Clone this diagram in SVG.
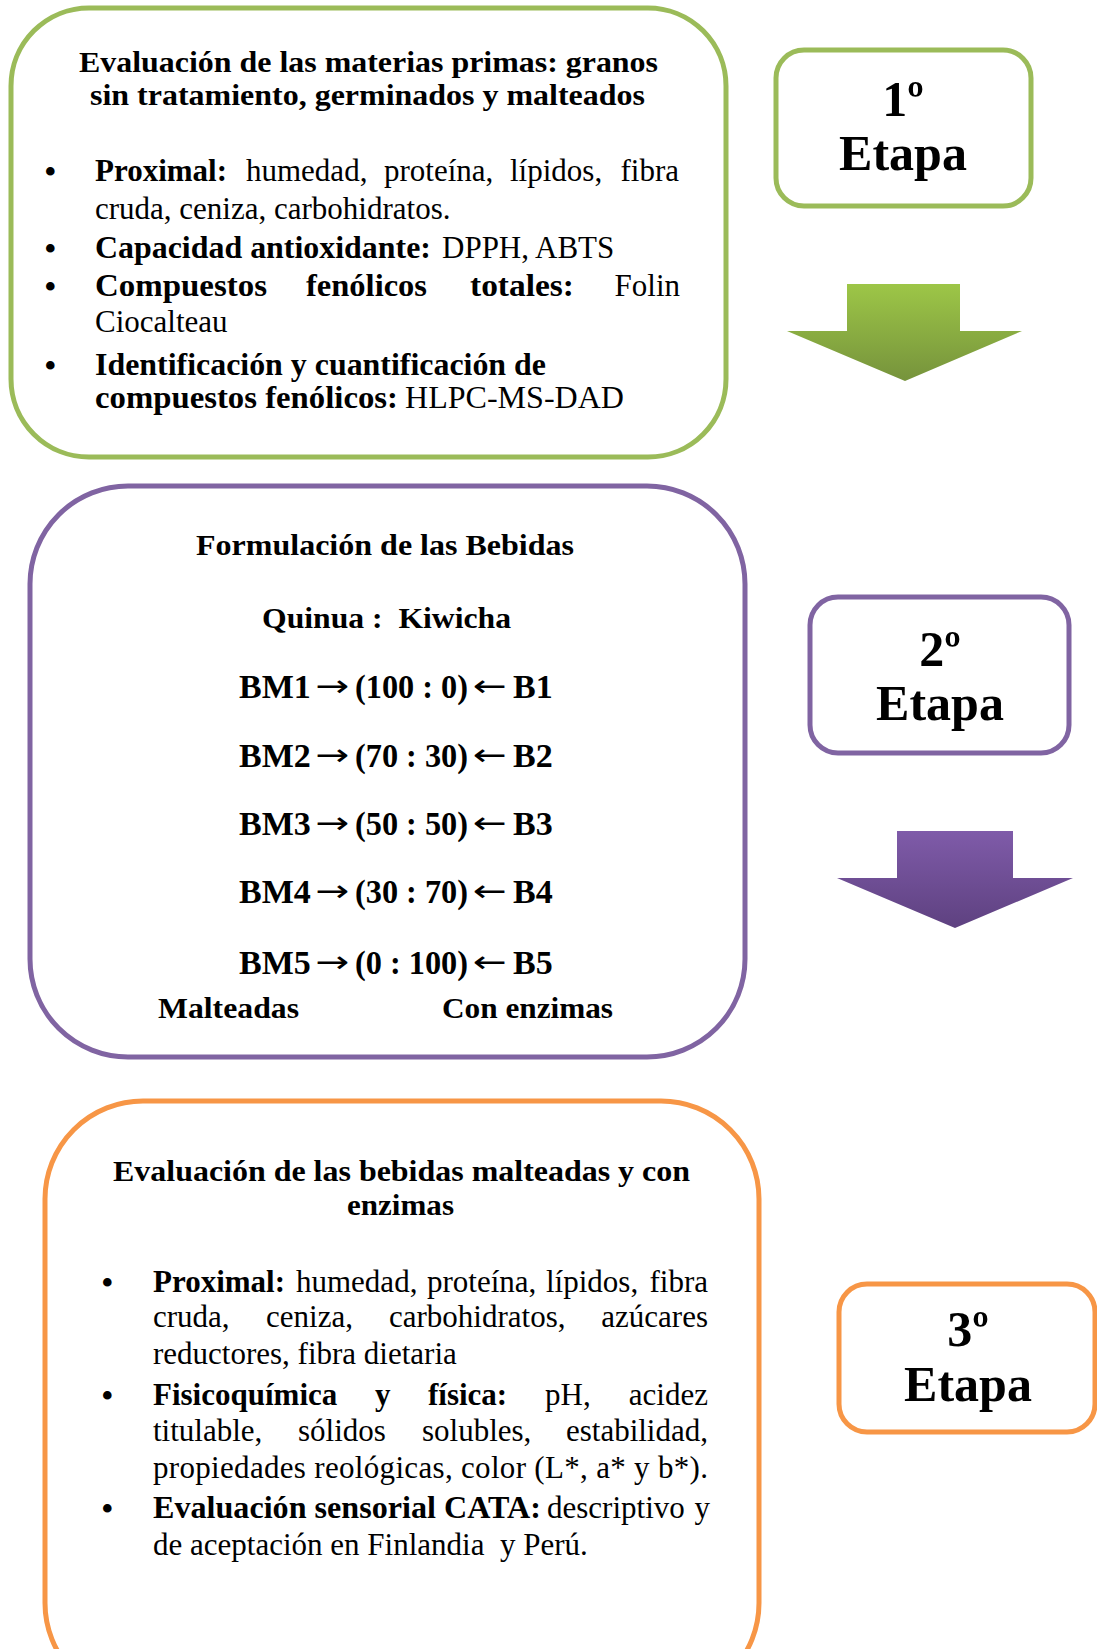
<svg xmlns="http://www.w3.org/2000/svg" width="1097" height="1649" viewBox="0 0 1097 1649" font-family="'Liberation Serif', 'Times New Roman', Tinos, serif">
<style>
text{font-family:'Liberation Serif','Times New Roman',Tinos,serif;fill:#000}
.b{font-weight:bold}
.t{font-size:30px;font-weight:bold}
.p{font-size:31px}
.e{text-anchor:end}
.u{font-size:36px}
.f{font-size:34px;font-weight:bold}
.a{font-family:'DejaVu Sans',sans-serif;font-size:30px}
.s{font-size:50px;font-weight:bold;text-anchor:middle}
.g{fill:#fff;stroke:#9BBB59;stroke-width:5}
.v{fill:#fff;stroke:#8064A2;stroke-width:5}
.o{fill:#fff;stroke:#F79646;stroke-width:5}
</style>
<defs>
<linearGradient id="gg" x1="0" y1="0" x2="0" y2="1">
<stop offset="0" stop-color="#9DC647"/><stop offset="1" stop-color="#76933C"/>
</linearGradient>
<linearGradient id="pg" x1="0" y1="0" x2="0" y2="1">
<stop offset="0" stop-color="#7F5BA9"/><stop offset="1" stop-color="#5E4180"/>
</linearGradient>
</defs>

<g id="connectors">
<polygon points="847,284 960,284 960,331 1022,331 905,381 787,331 847,331" fill="url(#gg)"/>
<polygon points="897,831 1013,831 1013,878 1073,878 955,928 837,878 897,878" fill="url(#pg)"/>
</g>

<g id="box1">
<rect class="g" x="11" y="8" width="715" height="449" rx="78"/>
<text class="t" x="79" y="72" textLength="579" lengthAdjust="spacingAndGlyphs">Evaluación de las materias primas: granos</text>
<text class="t" x="90" y="105" textLength="555" lengthAdjust="spacingAndGlyphs">sin tratamiento, germinados y malteados</text>
<text class="u" x="44" y="184">•</text>
<text class="p b" x="95" y="181">Proximal:</text>
<text class="p" x="246" y="181">humedad,</text>
<text class="p" x="384" y="181">proteína,</text>
<text class="p" x="510" y="181">lípidos,</text>
<text class="p e" x="679" y="181">fibra</text>
<text class="p" x="95" y="219">cruda, ceniza, carbohidratos.</text>
<text class="u" x="44" y="261">•</text>
<text class="p b" x="95" y="258" textLength="336" lengthAdjust="spacingAndGlyphs">Capacidad antioxidante:</text>
<text class="p" x="442" y="258">DPPH, ABTS</text>
<text class="u" x="44" y="299">•</text>
<text class="p b" x="95" y="296" textLength="172" lengthAdjust="spacingAndGlyphs">Compuestos</text>
<text class="p b" x="306" y="296" textLength="121" lengthAdjust="spacingAndGlyphs">fenólicos</text>
<text class="p b" x="470" y="296" textLength="104" lengthAdjust="spacingAndGlyphs">totales:</text>
<text class="p e" x="680" y="296">Folin</text>
<text class="p" x="95" y="332">Ciocalteau</text>
<text class="u" x="44" y="378">•</text>
<text class="p b" x="95" y="375" textLength="451" lengthAdjust="spacingAndGlyphs">Identificación y cuantificación de</text>
<text class="p b" x="95" y="408" textLength="303" lengthAdjust="spacingAndGlyphs">compuestos fenólicos:</text>
<text class="p" x="405" y="408" textLength="219" lengthAdjust="spacingAndGlyphs">HLPC-MS-DAD</text>
</g>

<g id="stage1">
<rect class="g" x="776" y="50" width="255" height="156" rx="28"/>
<text class="s" x="903" y="116">1º</text>
<text class="s" x="903" y="170">Etapa</text>
</g>

<g id="box2">
<rect class="v" x="30" y="486" width="715" height="571" rx="98"/>
<text class="t" x="196" y="555" textLength="378" lengthAdjust="spacingAndGlyphs">Formulación de las Bebidas</text>
<text class="t" x="262" y="628" textLength="249" lengthAdjust="spacingAndGlyphs" xml:space="preserve">Quinua :  Kiwicha</text>
<text class="f" x="239" y="698">BM1</text>
<text class="a" x="315" y="696" textLength="34" lengthAdjust="spacingAndGlyphs">→</text>
<text class="f" x="355" y="698" textLength="113" lengthAdjust="spacingAndGlyphs">(100 : 0)</text>
<text class="a" x="473" y="696" textLength="34" lengthAdjust="spacingAndGlyphs">←</text>
<text class="f" x="513" y="698">B1</text>
<text class="f" x="239" y="767">BM2</text>
<text class="a" x="315" y="765" textLength="34" lengthAdjust="spacingAndGlyphs">→</text>
<text class="f" x="355" y="767" textLength="113" lengthAdjust="spacingAndGlyphs">(70 : 30)</text>
<text class="a" x="473" y="765" textLength="34" lengthAdjust="spacingAndGlyphs">←</text>
<text class="f" x="513" y="767">B2</text>
<text class="f" x="239" y="835">BM3</text>
<text class="a" x="315" y="833" textLength="34" lengthAdjust="spacingAndGlyphs">→</text>
<text class="f" x="355" y="835" textLength="113" lengthAdjust="spacingAndGlyphs">(50 : 50)</text>
<text class="a" x="473" y="833" textLength="34" lengthAdjust="spacingAndGlyphs">←</text>
<text class="f" x="513" y="835">B3</text>
<text class="f" x="239" y="903">BM4</text>
<text class="a" x="315" y="901" textLength="34" lengthAdjust="spacingAndGlyphs">→</text>
<text class="f" x="355" y="903" textLength="113" lengthAdjust="spacingAndGlyphs">(30 : 70)</text>
<text class="a" x="473" y="901" textLength="34" lengthAdjust="spacingAndGlyphs">←</text>
<text class="f" x="513" y="903">B4</text>
<text class="f" x="239" y="974">BM5</text>
<text class="a" x="315" y="972" textLength="34" lengthAdjust="spacingAndGlyphs">→</text>
<text class="f" x="355" y="974" textLength="113" lengthAdjust="spacingAndGlyphs">(0 : 100)</text>
<text class="a" x="473" y="972" textLength="34" lengthAdjust="spacingAndGlyphs">←</text>
<text class="f" x="513" y="974">B5</text>
<text class="t" x="158" y="1018" textLength="141" lengthAdjust="spacingAndGlyphs">Malteadas</text>
<text class="t" x="442" y="1018" textLength="171" lengthAdjust="spacingAndGlyphs">Con enzimas</text>
</g>

<g id="stage2">
<rect class="v" x="810" y="597" width="259" height="156" rx="28"/>
<text class="s" x="940" y="666">2º</text>
<text class="s" x="940" y="720">Etapa</text>
</g>

<g id="box3">
<rect class="o" x="45" y="1101" width="714" height="600" rx="98"/>
<text class="t" x="113" y="1181" textLength="577" lengthAdjust="spacingAndGlyphs">Evaluación de las bebidas malteadas y con</text>
<text class="t" x="347" y="1215" textLength="107" lengthAdjust="spacingAndGlyphs">enzimas</text>
<text class="u" x="101" y="1295">•</text>
<text class="p b" x="153" y="1292">Proximal:</text>
<text class="p" x="296" y="1292">humedad,</text>
<text class="p" x="427" y="1292">proteína,</text>
<text class="p" x="546" y="1292">lípidos,</text>
<text class="p e" x="708" y="1292">fibra</text>
<text class="p" x="153" y="1327">cruda,</text>
<text class="p" x="266" y="1327">ceniza,</text>
<text class="p" x="389" y="1327">carbohidratos,</text>
<text class="p e" x="708" y="1327">azúcares</text>
<text class="p" x="153" y="1364">reductores, fibra dietaria</text>
<text class="u" x="101" y="1408">•</text>
<text class="p b" x="153" y="1405">Fisicoquímica</text>
<text class="p b" x="375" y="1405">y</text>
<text class="p b" x="428" y="1405">física:</text>
<text class="p" x="545" y="1405">pH,</text>
<text class="p e" x="708" y="1405">acidez</text>
<text class="p" x="153" y="1441">titulable,</text>
<text class="p" x="298" y="1441">sólidos</text>
<text class="p" x="422" y="1441">solubles,</text>
<text class="p e" x="708" y="1441">estabilidad,</text>
<text class="p" x="153" y="1478" textLength="555" lengthAdjust="spacing">propiedades reológicas, color (L*, a* y b*).</text>
<text class="u" x="101" y="1521">•</text>
<text class="p b" x="153" y="1518" textLength="388" lengthAdjust="spacingAndGlyphs">Evaluación sensorial CATA:</text>
<text class="p" x="547" y="1518">descriptivo</text>
<text class="p e" x="710" y="1518">y</text>
<text class="p" x="153" y="1555" xml:space="preserve">de aceptación en Finlandia  y Perú.</text>
</g>

<g id="stage3">
<rect class="o" x="839" y="1284" width="256" height="148" rx="28"/>
<text class="s" x="968" y="1346">3º</text>
<text class="s" x="968" y="1401">Etapa</text>
</g>
</svg>
